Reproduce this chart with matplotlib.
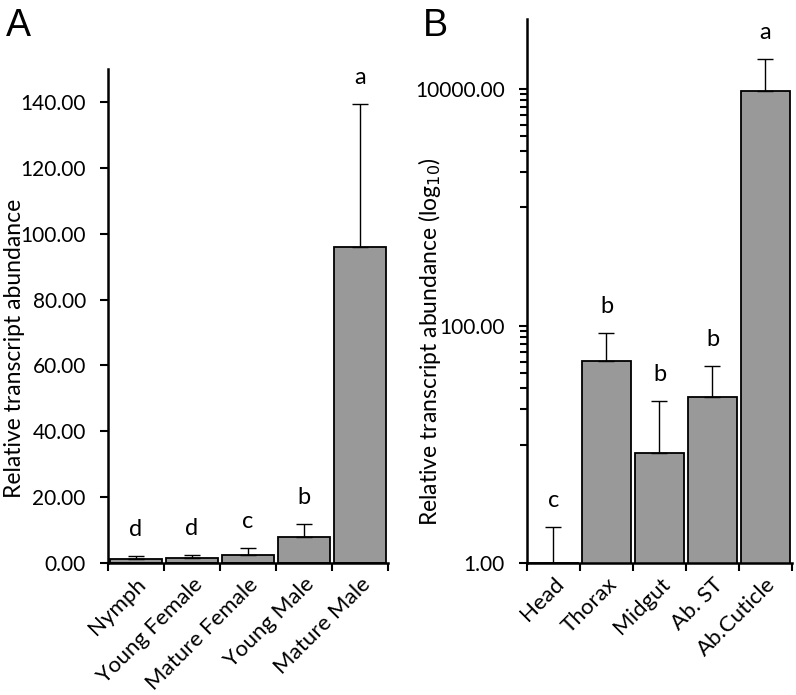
import matplotlib
matplotlib.use('Agg')
import matplotlib.pyplot as plt
from matplotlib.ticker import FixedLocator, FormatStrFormatter, NullFormatter
import numpy as np

# panel A: developmental stages
stages = ['Nymph', 'Young Female', 'Mature Female', 'Young Male', 'Mature Male']
stage_mean = [1.1, 1.6, 2.5, 7.8, 95.9]
stage_err = [1.0, 0.8, 2.2, 4.0, 43.5]
stage_letters = ['d', 'd', 'c', 'b', 'a']

# panel B: tissues (log scale)
tissues = ['Head', 'Thorax', 'Midgut', 'Ab. ST', 'Ab.Cuticle']
tissue_mean = [1.0, 51.0, 8.5, 25.0, 9600.0]
tissue_err = [1.0, 37.0, 15.0, 21.0, 8200.0]
tissue_letters = ['c', 'b', 'b', 'b', 'a']

plt.rcParams['font.family'] = ['Lato', 'DejaVu Sans']
bar_col = '#999999'
fs = 15

fig = plt.figure(figsize=(7.96, 6.95), dpi=100)
axA = fig.add_axes([0.1357, 0.1899, 0.3518, 0.7108])
axB = fig.add_axes([0.662, 0.1899, 0.3329, 0.7827])


def draw(ax, names, mean, err, letters):
    x = np.arange(len(names))
    ax.bar(x, mean, width=0.92, color=bar_col, edgecolor='black', linewidth=1.3, zorder=2)
    ax.errorbar(x, mean, yerr=[np.zeros(len(err)), err], fmt='none', ecolor='black',
                elinewidth=1.0, capsize=6, capthick=1.0, zorder=3)
    for xi, m, e, l in zip(x, mean, err, letters):
        ax.annotate(l, (xi, m + e), xytext=(0, 19), textcoords='offset points',
                    ha='center', va='center', fontsize=17)
    ax.set_xlim(-0.5, len(names) - 0.5)
    ax.set_xticks(x)
    ax.set_xticklabels(names, rotation=45, ha='right', rotation_mode='anchor', fontsize=16)
    ax.tick_params(axis='x', which='major', length=0, pad=8)
    ax.set_xticks(np.arange(len(names) + 1) - 0.5, minor=True)
    ax.tick_params(axis='x', which='minor', length=6, width=1.5, direction='out')
    ax.tick_params(axis='y', which='major', length=6, width=1.5, labelsize=fs, pad=10)
    ax.tick_params(axis='y', which='minor', length=5, width=1.5)
    for s in ['top', 'right']:
        ax.spines[s].set_visible(False)
    for s in ['left', 'bottom']:
        ax.spines[s].set_linewidth(1.8)


draw(axA, stages, stage_mean, stage_err, stage_letters)
axA.set_ylim(0, 150)
axA.set_yticks(np.arange(0, 141, 20))
axA.yaxis.set_major_formatter(FormatStrFormatter('%.2f'))
axA.set_ylabel('Relative transcript abundance', fontsize=16.5)
axA.yaxis.set_label_coords(-0.295, 0.435)

axB.set_yscale('log')
draw(axB, tissues, tissue_mean, tissue_err, tissue_letters)
axB.set_ylim(1, 10 ** 4.59)
axB.yaxis.set_major_locator(FixedLocator([1, 100, 10000]))
axB.yaxis.set_minor_locator(FixedLocator(list(range(10, 100, 10)) + list(range(1000, 10000, 1000))))
axB.yaxis.set_major_formatter(FormatStrFormatter('%.2f'))
axB.yaxis.set_minor_formatter(NullFormatter())
axB.set_ylabel('Relative transcript abundance (log$_{10}$)', fontsize=16.5)
axB.yaxis.set_label_coords(-0.317, 0.408)

fig.text(0.008, 0.988, 'A', fontsize=27, family='Liberation Sans', va='top', ha='left')
fig.text(0.531, 0.988, 'B', fontsize=27, family='Liberation Sans', va='top', ha='left')

fig.savefig('out.png', dpi=100)
